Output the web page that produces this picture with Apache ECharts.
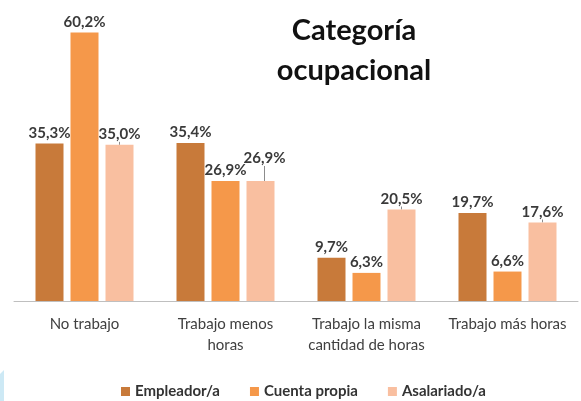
<!DOCTYPE html>
<html>
<head>
    <meta charset="utf-8">
    <title>Categoría ocupacional</title>
    <style>
        html, body { margin: 0; padding: 0; background: #fff; }
        #container { width: 581px; height: 401px; }
    </style>
</head>
<body>
    <div id="container"></div>
    <script src="https://cdn.jsdelivr.net/npm/echarts@6/dist/echarts.min.js"></script>
    <script type="text/javascript">
        var categorias = ['No trabajo', 'Trabajo menos\nhoras', 'Trabajo la misma\ncantidad de horas', 'Trabajo más horas'];
        var empleador = [35.3, 35.4, 9.7, 19.7];
        var cuentaPropia = [60.2, 26.9, 6.3, 6.6];
        var asalariado = [35.0, 26.9, 20.5, 17.6];
        var nombres = ['Empleador/a', 'Cuenta propia', 'Asalariado/a'];
        var colores = ['#C87A3A', '#F5984A', '#F9BFA0'];

        var myChart = echarts.init(document.getElementById('container'));

        var etiqueta = {
            show: true,
            position: 'top',
            distance: 3,
            fontFamily: 'Lato',
            fontWeight: 'bold',
            fontSize: 15,
            color: '#3a3a3a',
            formatter: function (p) {
                return p.value.toFixed(1).replace('.', ',') + '%';
            }
        };

        function serie(i, datos) {
            return {
                name: nombres[i],
                type: 'bar',
                data: datos,
                barWidth: 28,
                barGap: '25%',
                itemStyle: { color: colores[i] },
                label: etiqueta
            };
        }

        var sAsal = serie(2, asalariado);
        // la etiqueta 26,9% desplazada con línea guía
        sAsal.labelLayout = function (p) {
            if (p.dataIndex === 1) return { dx: 4, dy: -12 };
        };
        sAsal.labelLine = { show: true, lineStyle: { color: '#8c8c8c', width: 1 } };

        myChart.setOption({
            backgroundColor: '#fff',
            animation: false,
            title: {
                text: 'Categoría\nocupacional',
                left: 349,
                top: 6,
                textAlign: 'center',
                textStyle: {
                    fontFamily: 'Lato',
                    fontWeight: 'bold',
                    fontSize: 29,
                    lineHeight: 40,
                    color: '#111'
                }
            },
            legend: {
                bottom: -3,
                left: 116,
                itemWidth: 9,
                itemHeight: 9,
                itemGap: 30,
                icon: 'rect',
                textStyle: {
                    fontFamily: 'Lato',
                    fontWeight: 'bold',
                    fontSize: 15,
                    color: '#333'
                },
                data: nombres
            },
            grid: { left: 14, right: 3, top: 11, bottom: 100 },
            xAxis: {
                type: 'category',
                data: categorias,
                axisTick: { show: false },
                axisLine: { lineStyle: { color: '#bfbfbf', width: 1 } },
                axisLabel: {
                    interval: 0,
                    margin: 13,
                    fontFamily: 'Lato',
                    fontSize: 15,
                    lineHeight: 21,
                    color: '#404040'
                }
            },
            yAxis: {
                type: 'value',
                min: 0,
                max: 65,
                show: false,
                splitLine: { show: false }
            },
            graphic: [{
                type: 'polygon',
                shape: { points: [[0, 374], [4, 370], [4, 401], [0, 401]] },
                style: { fill: '#cde9f5' }
            }],
            series: [serie(0, empleador), serie(1, cuentaPropia), sAsal]
        });
    </script>
</body>
</html>
